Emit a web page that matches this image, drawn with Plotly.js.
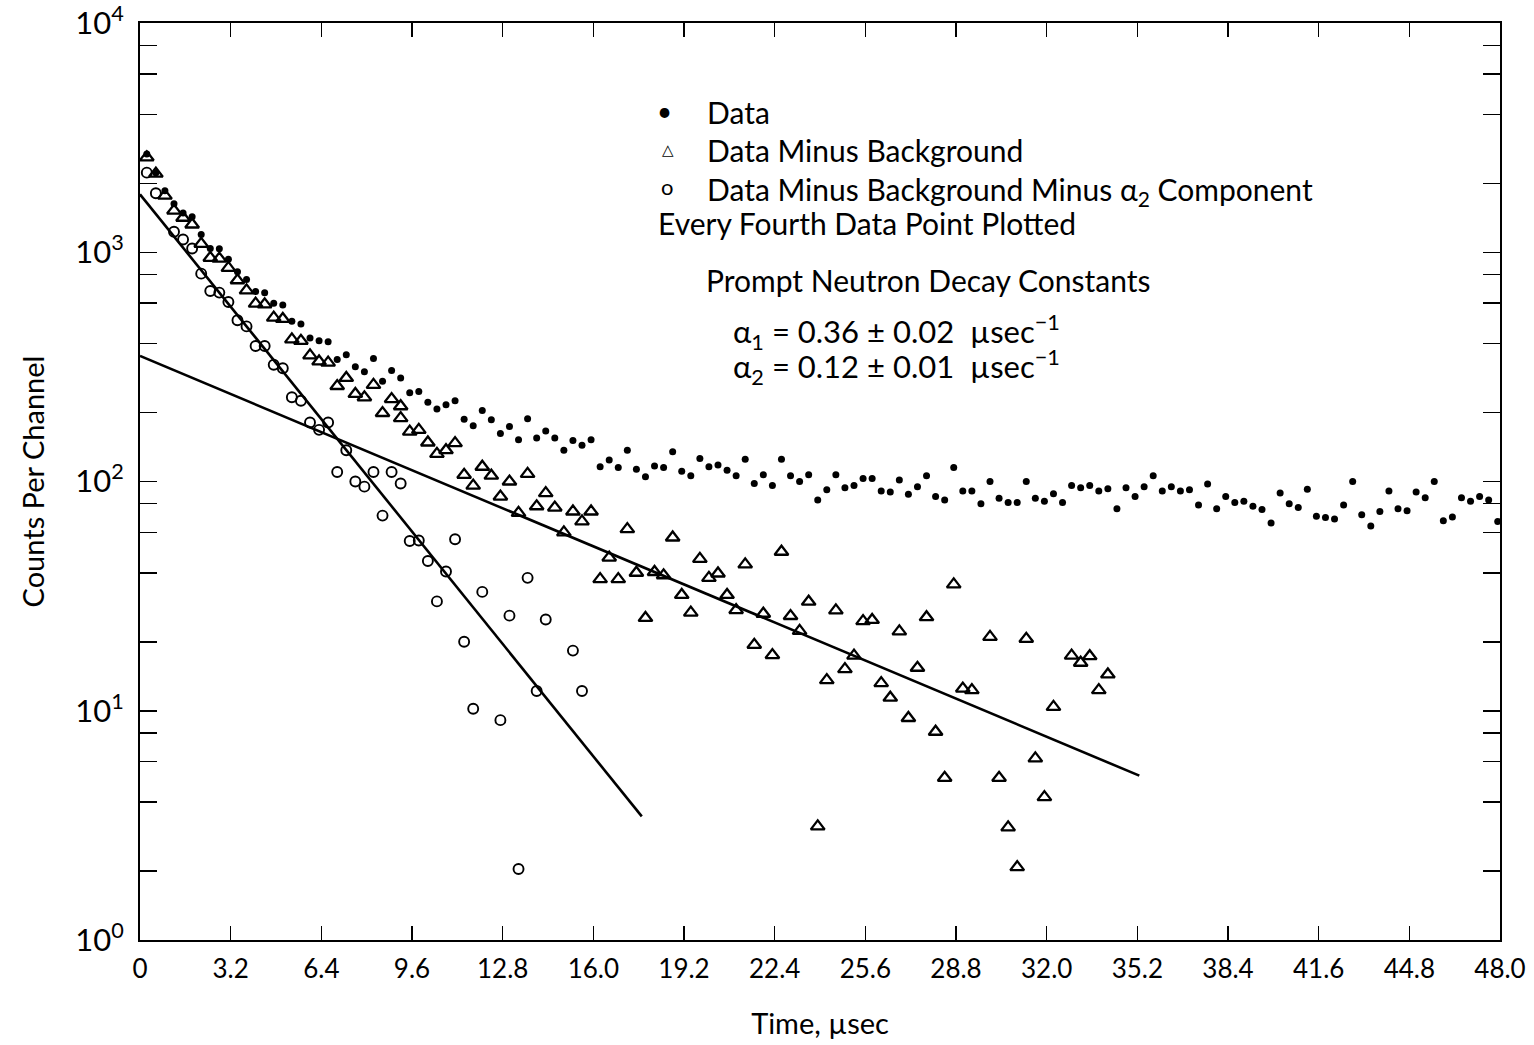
<!DOCTYPE html>
<html>
<head>
<meta charset="utf-8">
<script src="https://cdn.plot.ly/plotly-3.0.1.min.js"></script>
<style>
  html, body { margin: 0; padding: 0; background: #fff; }
  #chart { width: 1534px; height: 1045px; }
</style>
</head>
<body>
<div id="chart"></div>
<script>
// Time of every fourth channel (µsec)
const time = [
  0.24,0.56,0.88,1.20,1.52,1.84,2.16,2.48,2.80,3.12,
  3.44,3.76,4.08,4.40,4.72,5.04,5.36,5.68,6.00,6.32,
  6.64,6.96,7.28,7.60,7.92,8.24,8.56,8.88,9.20,9.52,
  9.84,10.16,10.48,10.80,11.12,11.44,11.76,12.08,12.40,12.72,
  13.04,13.36,13.68,14.00,14.32,14.64,14.96,15.28,15.60,15.92,
  16.24,16.56,16.88,17.20,17.52,17.84,18.16,18.48,18.80,19.12,
  19.44,19.76,20.08,20.40,20.72,21.04,21.36,21.68,22.00,22.32,
  22.64,22.96,23.28,23.60,23.92,24.24,24.56,24.88,25.20,25.52,
  25.84,26.16,26.48,26.80,27.12,27.44,27.76,28.08,28.40,28.72,
  29.04,29.36,29.68,30.00,30.32,30.64,30.96,31.28,31.60,31.92,
  32.24,32.56,32.88,33.20,33.52,33.84,34.16,34.48,34.80,35.12,
  35.44,35.76,36.08,36.40,36.72,37.04,37.36,37.68,38.00,38.32,
  38.64,38.96,39.28,39.60,39.92,40.24,40.56,40.88,41.20,41.52,
  41.84,42.16,42.48,42.80,43.12,43.44,43.76,44.08,44.40,44.72,
  45.04,45.36,45.68,46.00,46.32,46.64,46.96,47.28,47.60,47.92
];

// Data (counts per channel)
const data = [
  2685,2225,1855,1630,1483,1429,1196,1038,1035,933,
  822,761,674,666,599,589,500,487,423,411,
  407,341,357,317,301,344,274,305,283,244,
  247,222,207,216,225,187,175,204,186,162,
  174,152,188,155,166,155,137,151,144,152,
  116,124,115,137,113,105,117,115,135,111,
  106,126,116,118,112,106,125,98,107,96,
  125,106,100,107,83,92,107,94,96,103,
  103,91,90,101.5,88,95,106,86,83,115,
  91,91,80,100,84.5,81,81,100,84.5,82,
  88.5,81,96,94,96,91,93,76,94,86,
  95,106,91,95,91,92,79,97.5,76,86,
  81,82,78,75.5,66,89,80,77,92.5,70.5,
  69.7,68.7,79,100,71.6,64,74,91,76,74.5,
  90,85,100,67.4,70,85,82,86,83,67
];

// Data minus background (null = not plotted)
const dataMinusBg = [
  2596,2203,1766,1521,1415,1322,1089,946,939,855,
  755,682,597,593,519,512,417,411,355,334,
  330,261,283,241,233,264,199,229,213,165,
  168,148,132,137,147,107,96,116,106,86,
  100,73,108,78,89,77,60,74,67,74,
  37.5,46.6,37.5,62,40,25.4,40.3,39,57,32,
  26.8,46,38,39.7,32,27.5,43.5,19.4,26.5,17.5,
  49.4,25.9,22.3,29.9,3.13,13.6,27.4,15.2,17.4,24.6,
  24.9,13.2,11.4,22.2,9.3,15.4,25.6,8.1,5.1,35.6,
  12.5,12.3,null,21,5.1,3.1,2.08,20.6,6.2,4.2,
  10.4,null,17.4,16.2,17.3,12.3,14.4
];
const extraBgTime = [9.20];
const extraBgValue = [189];

// Data minus background minus alpha2 component
const minusAlpha2 = [
  2225,1808,null,1229,1137,1038,807,678,667,607,
  505,475,390,390,323,312,233,225,181,168,
  181,110,137,100,95,110,71,110,98,55,
  55.3,45,30,40.5,56,20,10.2,33,null,9.1,
  26,2.04,38,12.2,25,null,null,18.3,12.2
];

// Fitted decay lines (end points)
const fit1Time = [0, 17.71];
const fit1Value = [1790, 3.46];
const fit2Time = [0, 35.27];
const fit2Value = [353, 5.21];

// Axis ticks
const xTickVals = [0,3.2,6.4,9.6,12.8,16.0,19.2,22.4,25.6,28.8,32.0,35.2,38.4,41.6,44.8,48.0];
const xTickText = ['0','3.2','6.4','9.6','12.8','16.0','19.2','22.4','25.6','28.8','32.0','35.2','38.4','41.6','44.8','48.0'];
const yTickVals = [1,10,100,1000,10000];
const yTickText = ['10<sup>0</sup>','10<sup>1</sup>','10<sup>2</sup>','10<sup>3</sup>','10<sup>4</sup>'];
const yMinorVals = [2,4,6,8,20,40,60,80,200,400,600,800,2000,4000,6000,8000];

const FONT = 'Lato, "Noto Sans", sans-serif';
const L = 140, R = 1500, T = 23, B = 940;
const px = v => (v - L) / (R - L);
const py = v => (B - v) / (B - T);

const triMarker = { symbol: 'triangle-up-open', size: 12, color: '#000', line: { width: 2.3, color: '#000' } };

const traces = [
  { x: fit1Time, y: fit1Value, mode: 'lines', line: { color: '#000', width: 2.6 }, hoverinfo: 'skip', name: 'α1 fit' },
  { x: fit2Time, y: fit2Value, mode: 'lines', line: { color: '#000', width: 2.6 }, hoverinfo: 'skip', name: 'α2 fit' },
  { x: time, y: data, mode: 'markers', name: 'Data',
    marker: { symbol: 'circle', size: 7, color: '#000' } },
  { x: time, y: dataMinusBg, mode: 'markers', name: 'Data Minus Background', marker: triMarker },
  { x: extraBgTime, y: extraBgValue, mode: 'markers', name: 'Data Minus Background', marker: triMarker },
  { x: time, y: minusAlpha2, mode: 'markers', name: 'Data Minus Background Minus α2 Component',
    marker: { symbol: 'circle-open', size: 10, color: '#000', line: { width: 1.9, color: '#000' } } }
];

const ann = (text, x, y, size, anchor) => ({
  text: text, xref: 'paper', yref: 'paper', x: px(x), y: py(y),
  xanchor: anchor || 'left', yanchor: 'middle', showarrow: false,
  font: { family: FONT, size: size || 30, color: '#000' }
});

const annotations = [
  ann('•', 664, 111, 26, 'center'),
  ann('Data', 705, 112),
  ann('△', 668, 149, 15, 'center'),
  ann('Data Minus Background', 705, 150),
  ann('o', 667, 186, 22, 'center'),
  ann('Data Minus Background Minus α<sub>2</sub> Component', 705, 191),
  ann('Every Fourth Data Point Plotted', 656, 223),
  ann('Prompt Neutron Decay Constants', 704, 280),
  ann('α<sub>1</sub> = 0.36 ± 0.02  µsec<sup>−1</sup>', 731, 332, 31),
  ann('α<sub>2</sub> = 0.12 ± 0.01  µsec<sup>−1</sup>', 731, 367, 31)
];

const layout = {
  width: 1534, height: 1045,
  margin: { l: L, r: 1534 - R, t: T, b: 1045 - B },
  paper_bgcolor: '#fff', plot_bgcolor: '#fff',
  showlegend: false,
  font: { family: FONT, color: '#000' },
  xaxis: {
    range: [0, 48], tickvals: xTickVals, ticktext: xTickText,
    ticks: 'inside', ticklen: 14, tickwidth: 1.5, tickcolor: '#000',
    showline: true, linecolor: '#000', linewidth: 2, mirror: 'ticks',
    showgrid: false, zeroline: false,
    tickfont: { family: FONT, size: 26, color: '#000' },
    ticklabelstandoff: 5, ticklabeloverflow: 'allow',
    title: { text: 'Time, µsec', font: { family: FONT, size: 29, color: '#000' }, standoff: 30 }
  },
  yaxis: {
    type: 'log', range: [0, 4.0002], tickvals: yTickVals, ticktext: yTickText,
    ticks: 'inside', ticklen: 17, tickwidth: 1.5, tickcolor: '#000',
    minor: { tickvals: yMinorVals, ticks: 'inside', ticklen: 17, tickwidth: 1.5, tickcolor: '#000', showgrid: false },
    showline: true, linecolor: '#000', linewidth: 2, mirror: 'ticks',
    showgrid: false, zeroline: false,
    tickfont: { family: FONT, size: 31, color: '#000' },
    ticklabelstandoff: 8, ticklabeloverflow: 'allow',
    title: { text: 'Counts Per Channel', font: { family: FONT, size: 29, color: '#000' }, standoff: 22 }
  },
  annotations: annotations
};

Plotly.newPlot('chart', traces, layout, { staticPlot: true, displayModeBar: false });
</script>
</body>
</html>
